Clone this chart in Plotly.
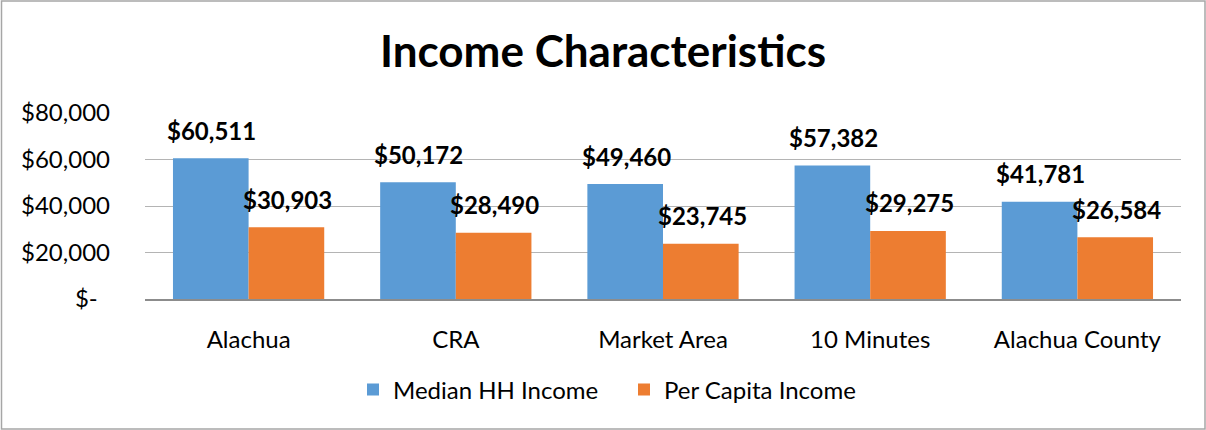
import plotly.graph_objects as go

categories = ["Alachua", "CRA", "Market Area", "10 Minutes", "Alachua County"]
median_hh = [60511, 50172, 49460, 57382, 41781]
per_capita = [30903, 28490, 23745, 29275, 26584]
tick_vals = [0, 20000, 40000, 60000, 80000]
tick_text = ["$-\u00a0\u00a0", "$20,000", "$40,000", "$60,000", "$80,000"]

FONT = "Lato, Carlito, Calibri, sans-serif"
BLUE = "#5B9BD5"
ORANGE = "#ED7D31"

fig = go.Figure()
fig.add_trace(go.Bar(name="Median HH Income", x=categories, y=median_hh,
                     marker=dict(color=BLUE, line=dict(width=0))))
fig.add_trace(go.Bar(name="Per Capita Income", x=categories, y=per_capita,
                     marker=dict(color=ORANGE, line=dict(width=0))))

annotations = []
for cat, v in zip(categories, median_hh):
    annotations.append(dict(x=cat, y=v, xref="x", yref="y", text=f"<b>${v:,}</b>",
                            showarrow=False, xshift=-37, yshift=28, yanchor="middle",
                            font=dict(family=FONT, size=24, color="#000000")))
for cat, v in zip(categories, per_capita):
    annotations.append(dict(x=cat, y=v, xref="x", yref="y", text=f"<b>${v:,}</b>",
                            showarrow=False, xshift=39, yshift=28, yanchor="middle",
                            font=dict(family=FONT, size=24, color="#000000")))

W, H = 1206, 430
L, R, T, B = 145, 25, 113, 131
pw, ph = W - L - R, H - T - B

def px_x(x):
    return (x - L) / pw

def px_y(y):
    return (H - B - y) / ph

fig.update_layout(
    width=W, height=H,
    margin=dict(l=L, r=R, t=T, b=B),
    paper_bgcolor="white", plot_bgcolor="white",
    font=dict(family=FONT, size=24, color="#000000"),
    title=dict(text="<b>Income Characteristics</b>", x=0.5, xref="container",
               xanchor="center", y=1 - 52 / H, yref="container", yanchor="middle",
               font=dict(family=FONT, size=44, color="#000000")),
    barmode="group", bargap=0.27, bargroupgap=0,
    xaxis=dict(showgrid=False, showline=True, linecolor="#8c8c8c", linewidth=2,
               ticks="", ticklabelstandoff=18,
               tickfont=dict(family=FONT, size=24, color="#000000")),
    yaxis=dict(range=[0, 80000], tickvals=tick_vals, ticktext=tick_text,
               showgrid=True, gridcolor="#b4b4b4", gridwidth=1, zeroline=False,
               showline=False, ticks="", ticklabelstandoff=34,
               tickfont=dict(family=FONT, size=24, color="#000000")),
    legend=dict(orientation="h", xref="container", x=353 / W, xanchor="left",
                yref="container", y=1 - 390 / H, yanchor="middle",
                font=dict(family=FONT, size=24, color="#000000"),
                itemwidth=30, traceorder="normal", entrywidth=226),
    annotations=annotations,
    shapes=[dict(type="rect", xref="paper", yref="paper",
                 x0=px_x(1.5), x1=px_x(1205), y0=px_y(429), y1=px_y(1),
                 line=dict(color="#a6a6a6", width=1.5), fillcolor="rgba(0,0,0,0)",
                 layer="below")],
)

fig.write_html("out.html", config={"displayModeBar": False},
               post_script="document.body.style.margin='0';document.body.style.overflow='hidden';")
